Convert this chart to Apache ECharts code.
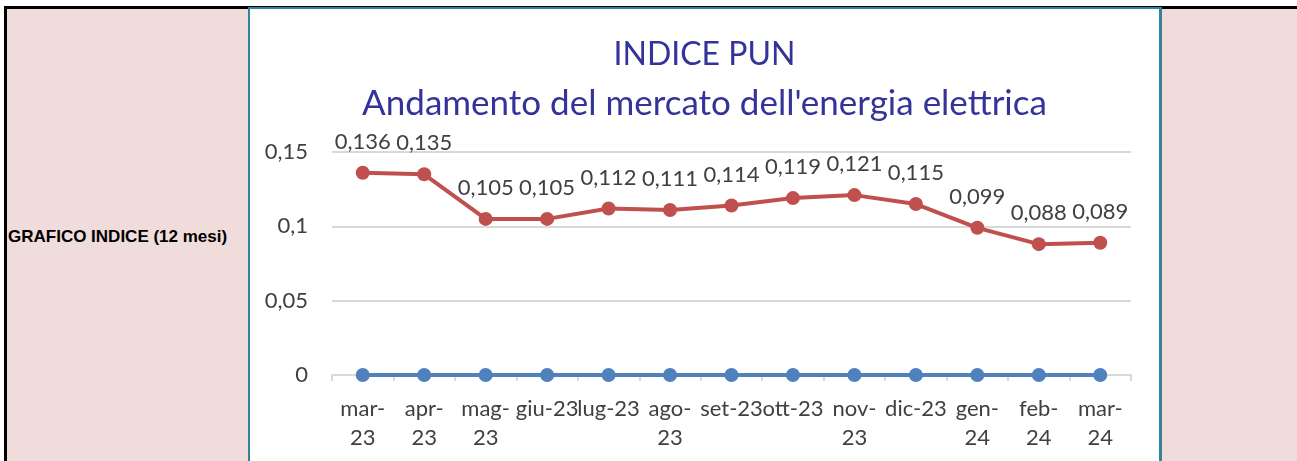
<!DOCTYPE html>
<html>
	<head>
		<meta charset="utf-8">
		<title>Indice PUN</title>
		<script src="https://cdn.jsdelivr.net/npm/echarts@6/dist/echarts.min.js"></script>
		<style>
			body { margin: 0; width: 1297px; height: 461px; position: relative; overflow: hidden; background: #fff; }
			.cell { position: absolute; background: #F0DCDB; }
			#label { position: absolute; left: 8px; top: 227px; font-family: "Liberation Sans", Arial, sans-serif; font-weight: bold; font-size: 17px; color: #000; }
		</style>
	</head>
	
	<body>
		<div style="position:absolute;left:4px;top:6px;width:1293px;height:3px;background:#000;"></div>
		<div style="position:absolute;left:4px;top:6px;width:3px;height:455px;background:#000;"></div>
		<div class="cell" style="left:7px;top:9px;width:241px;height:452px;"></div>
		<div class="cell" style="left:1162px;top:9px;width:135px;height:452px;"></div>
		<div style="position:absolute;left:248px;top:7px;width:914px;height:2px;background:#31849B;"></div>
		<div style="position:absolute;left:248px;top:7px;width:2px;height:454px;background:#31849B;"></div>
		<div style="position:absolute;left:1159px;top:7px;width:3px;height:454px;background:#31849B;"></div>
		<div id="label">GRAFICO INDICE (12 mesi)</div>
		<div id="main" style="position:absolute;left:250px;top:9px;width:909px;height:452px;"></div>
		<script type="text/javascript">
			var mesi = ['mar-23', 'apr-23', 'mag-23', 'giu-23', 'lug-23', 'ago-23', 'set-23', 'ott-23', 'nov-23', 'dic-23', 'gen-24', 'feb-24', 'mar-24'];
			// etichette come le spezza Excel
			var etichette = ['mar-\n23', 'apr-\n23', 'mag-\n23', 'giu-23', 'lug-23', 'ago-\n23', 'set-23', 'ott-23', 'nov-\n23', 'dic-23', 'gen-\n24', 'feb-\n24', 'mar-\n24'];
			var pun = [0.136, 0.135, 0.105, 0.105, 0.112, 0.111, 0.114, 0.119, 0.121, 0.115, 0.099, 0.088, 0.089];
			var base = [0, 0, 0, 0, 0, 0, 0, 0, 0, 0, 0, 0, 0];
			var yTicks = [0, 0.05, 0.1, 0.15];

			var font = 'Lato, "Open Sans", sans-serif';
			var myChart = echarts.init(document.getElementById("main"));
			option = {
			  animation: false,
			  title: [
			    {
			      text: 'INDICE PUN',
			      left: 'center',
			      top: 25,
			      textStyle: { color: '#333399', fontSize: 32, fontWeight: 'normal', fontFamily: font }
			    },
			    {
			      text: "Andamento del mercato dell'energia elettrica",
			      left: 'center',
			      top: 72,
			      textStyle: { color: '#333399', fontSize: 35, fontWeight: 'normal', fontFamily: font }
			    }
			  ],
			  grid: { left: 82, right: 28, top: 143, bottom: 86 },
			  xAxis: {
			    type: 'category',
			    data: mesi,
			    axisLine: { lineStyle: { color: '#D9D9D9', width: 2 } },
			    axisTick: { show: true, length: 6, lineStyle: { color: '#D9D9D9', width: 2 } },
			    axisLabel: {
			      color: '#404040',
			      fontSize: 22,
			      fontFamily: font,
			      lineHeight: 29,
			      margin: 19,
			      interval: 0,
			      formatter: function (v, i) { return etichette[i]; }
			    }
			  },
			  yAxis: {
			    type: 'value',
			    min: 0,
			    max: yTicks[yTicks.length - 1],
			    interval: 0.05,
			    axisLine: { show: false },
			    axisTick: { show: false },
			    splitLine: { lineStyle: { color: '#D9D9D9', width: 2 } },
			    axisLabel: {
			      color: '#404040',
			      fontSize: 22,
			      fontFamily: font,
			      margin: 24,
			      formatter: function (v) { return String(+v.toFixed(3)).replace('.', ','); }
			    }
			  },
			  series: [
			    {
			      name: 'base',
			      type: 'line',
			      data: base,
			      symbol: 'circle',
			      symbolSize: 14,
			      lineStyle: { color: '#4F81BD', width: 4 },
			      itemStyle: { color: '#4F81BD' }
			    },
			    {
			      name: 'PUN',
			      type: 'line',
			      data: pun,
			      symbol: 'circle',
			      symbolSize: 14,
			      lineStyle: { color: '#C0504D', width: 4 },
			      itemStyle: { color: '#C0504D' },
			      label: {
			        show: true,
			        position: 'top',
			        distance: 13,
			        color: '#404040',
			        fontSize: 22,
			        fontFamily: font,
			        formatter: function (p) { return String(p.value).replace('.', ','); }
			      }
			    }
			  ]
			};
			myChart.setOption(option);
		</script>
		
	</body>
</html>
